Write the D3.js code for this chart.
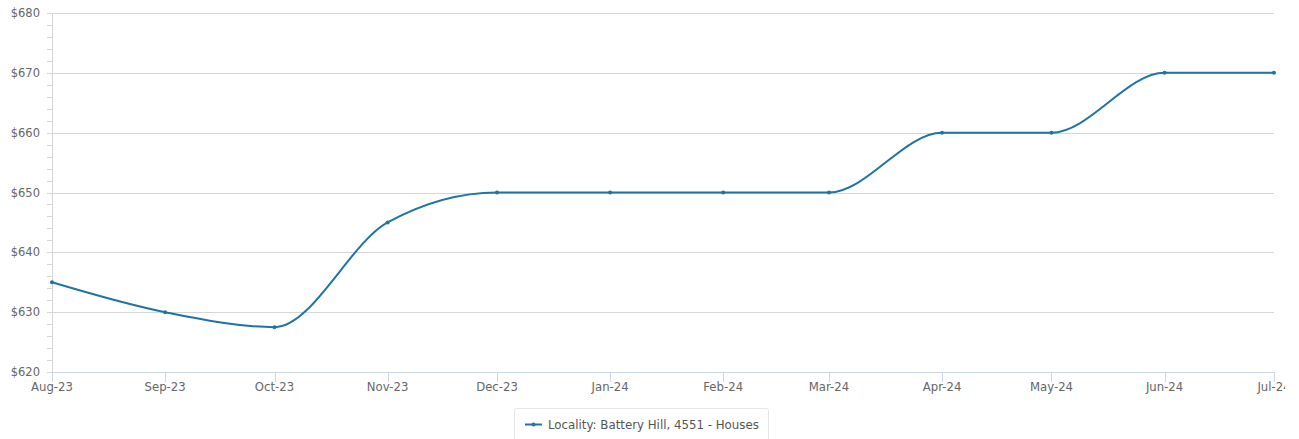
<!DOCTYPE html>
<html>
<head>
<meta charset="utf-8">
<script src="https://cdn.jsdelivr.net/npm/d3@7"></script>
<style>
  html, body { margin: 0; padding: 0; background: #fff; }
  svg { display: block; font-family: "DejaVu Sans", sans-serif; }
</style>
</head>
<body>
<svg id="chart" width="1299" height="439"></svg>
<script>
// Monthly median weekly rent, Battery Hill 4551 houses
const months = ["2023-08-01", "2023-09-01", "2023-10-01", "2023-11-01", "2023-12-01", "2024-01-01",
                "2024-02-01", "2024-03-01", "2024-04-01", "2024-05-01", "2024-06-01", "2024-07-01"];
const rents = [635, 630, 627.5, 645, 650, 650, 650, 650, 660, 660, 670, 670];
const yTicks = [620, 630, 640, 650, 660, 670, 680];
const seriesName = "Locality: Battery Hill, 4551 - Houses";

const parse = d3.timeParse("%Y-%m-%d");
const data = months.map((m, i) => ({ date: parse(m), value: rents[i] }));

const svg = d3.select("#chart");
const margin = { left: 52, right: 25, top: 13, bottom: 67 };
const W = 1299, H = 439;

const x = d3.scaleTime()
  .domain(d3.extent(data, d => d.date))
  .range([margin.left, W - margin.right]);
const y = d3.scaleLinear()
  .domain([620, 680])
  .range([H - margin.bottom, margin.top]);

const lineColor = "#1f74a3";

// x labels are cut off at the right edge of the chart container
svg.append("defs").append("clipPath").attr("id", "labelClip")
  .append("rect").attr("x", 0).attr("y", 0).attr("width", 1285).attr("height", H);

// horizontal grid
svg.append("g")
  .selectAll("line")
  .data(yTicks)
  .join("line")
  .attr("x1", margin.left).attr("x2", W - margin.right)
  .attr("y1", d => Math.round(y(d)) + 0.5).attr("y2", d => Math.round(y(d)) + 0.5)
  .attr("stroke", "#d6d6d6").attr("stroke-width", 1);

// y axis line with minor ticks
const yAxis = svg.append("g");
yAxis.append("line")
  .attr("x1", margin.left + 0.5).attr("x2", margin.left + 0.5)
  .attr("y1", y(680)).attr("y2", y(620))
  .attr("stroke", "#d6d6d6");
yAxis.selectAll("line.minor")
  .data(d3.range(620, 681, 2))
  .join("line")
  .attr("class", "minor")
  .attr("x1", margin.left - 5).attr("x2", margin.left)
  .attr("y1", d => Math.round(y(d)) + 0.5).attr("y2", d => Math.round(y(d)) + 0.5)
  .attr("stroke", "#d6d6d6");
yAxis.selectAll("text")
  .data(yTicks)
  .join("text")
  .attr("x", margin.left - 12)
  .attr("y", d => y(d) + 4)
  .attr("text-anchor", "end")
  .attr("font-size", 11.5)
  .attr("fill", "#666")
  .text(d => "$" + d);

// x axis
const xAxis = svg.append("g");
xAxis.append("line")
  .attr("x1", margin.left).attr("x2", W - margin.right + 0.5)
  .attr("y1", Math.round(y(620)) + 0.5).attr("y2", Math.round(y(620)) + 0.5)
  .attr("stroke", "#ccd6eb");
xAxis.selectAll("line.tick")
  .data(data)
  .join("line")
  .attr("class", "tick")
  .attr("x1", d => Math.round(x(d.date)) + 0.5).attr("x2", d => Math.round(x(d.date)) + 0.5)
  .attr("y1", y(620)).attr("y2", y(620) + 10)
  .attr("stroke", "#ccd6eb");
const fmt = d3.timeFormat("%b-%y");
xAxis.append("g")
  .attr("clip-path", "url(#labelClip)")
  .selectAll("text")
  .data(data)
  .join("text")
  .attr("x", d => x(d.date))
  .attr("y", y(620) + 19)
  .attr("text-anchor", "middle")
  .attr("font-size", 11.7)
  .attr("fill", "#666")
  .text(d => fmt(d.date));

// series line
const line = d3.line()
  .x(d => x(d.date))
  .y(d => y(d.value))
  .curve(d3.curveMonotoneX);
svg.append("path")
  .datum(data)
  .attr("d", line)
  .attr("fill", "none")
  .attr("stroke", lineColor)
  .attr("stroke-width", 2);
svg.append("g")
  .selectAll("circle")
  .data(data)
  .join("circle")
  .attr("cx", d => x(d.date))
  .attr("cy", d => y(d.value))
  .attr("r", 2)
  .attr("fill", lineColor);

// legend
const legend = svg.append("g");
legend.append("rect")
  .attr("x", 514.5).attr("y", 408.5)
  .attr("width", 254).attr("height", 40)
  .attr("rx", 2)
  .attr("fill", "#fff")
  .attr("stroke", "#e6e6e6");
legend.append("line")
  .attr("x1", 525).attr("x2", 542)
  .attr("y1", 424.5).attr("y2", 424.5)
  .attr("stroke", lineColor).attr("stroke-width", 2);
legend.append("circle")
  .attr("cx", 533.5).attr("cy", 424.5).attr("r", 2)
  .attr("fill", lineColor);
legend.append("text")
  .attr("x", 548).attr("y", 428.5)
  .attr("font-size", 11.8)
  .attr("fill", "#555")
  .text(seriesName);
</script>
</body>
</html>
